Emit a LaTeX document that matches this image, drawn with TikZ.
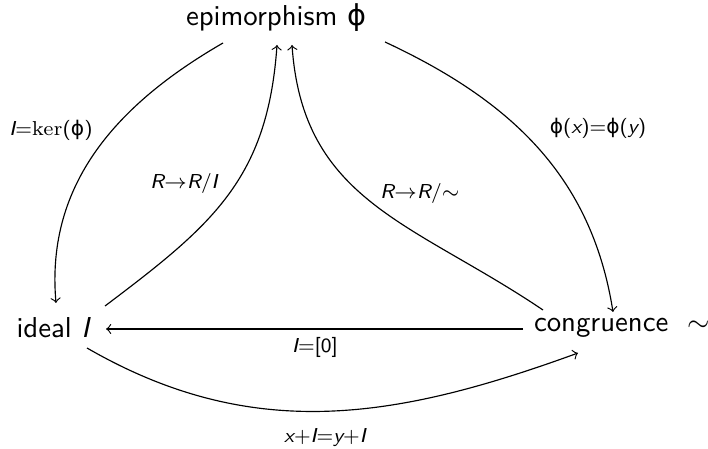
\documentclass[tikz,border=0pt]{standalone}
\usepackage{amsmath,amssymb}
\usepackage{fontspec}
\newfontfamily\dejavu{DejaVu Sans}
\newcommand{\fphi}{{\dejavu\char"03D5}}
\newcommand{\vit}[1]{{\itshape #1}}
\usetikzlibrary{calc}

\begin{document}
\begin{tikzpicture}[x=0.0122cm, y=-0.0122cm, font=\sffamily,
    lbl/.style={font=\sffamily\scriptsize}]
    \useasboundingbox (0,0) rectangle (708,449);
    \node (epi) at (276,18) {epimorphism \fphi};
    \node (ideal) at (53,328) {ideal \vit{I}};
    \node (cong) at (622,328) {congruence \ $\sim$};
    % outer arrows
    \draw[->] ($(epi)+(-53,25)$) to[out=210, in=95] ($(ideal)+(3,-25)$);
    \draw[->] ($(epi)+(109,24)$) to[out=-25, in=99] ($(cong)+(-9,-16)$);
    % inner arrows
    \draw[->] ($(ideal)+(52,-22)$) to[out=37, in=266, looseness=1.1] ($(epi)+(1,27)$);
    \draw[->] ($(cong)+(-79,-18)$) to[out=146, in=274, looseness=1.1] ($(epi)+(16,27)$);
    \draw[->] ($(cong)+(-99,1)$) -- ($(ideal)+(53,1)$);
    \draw[->] ($(ideal)+(34,20)$) to[out=-30, in=200] ($(cong)+(-44,25)$);
    \node[lbl] (kerlbl) at (51,130) {\vit{I}=\textrm{ker}(\fphi)};
    \node[lbl] (eqlbl) at (598,128) {\fphi(\vit{x})=\fphi(\vit{y})};
    \node[lbl] (quolbl) at (184,183) {\vit{R}$\to$\vit{R}/\vit{I}};
    \node[lbl] (simlbl) at (420,193) {\vit{R}$\to$\vit{R}/$\sim$};
    \node[lbl] (zerolbl) at (315,347) {\vit{I}=[0]};
    \node[lbl] (cosetlbl) at (325,438) {\vit{x}+\vit{I}=\vit{y}+\vit{I}};
\end{tikzpicture}
\end{document}
